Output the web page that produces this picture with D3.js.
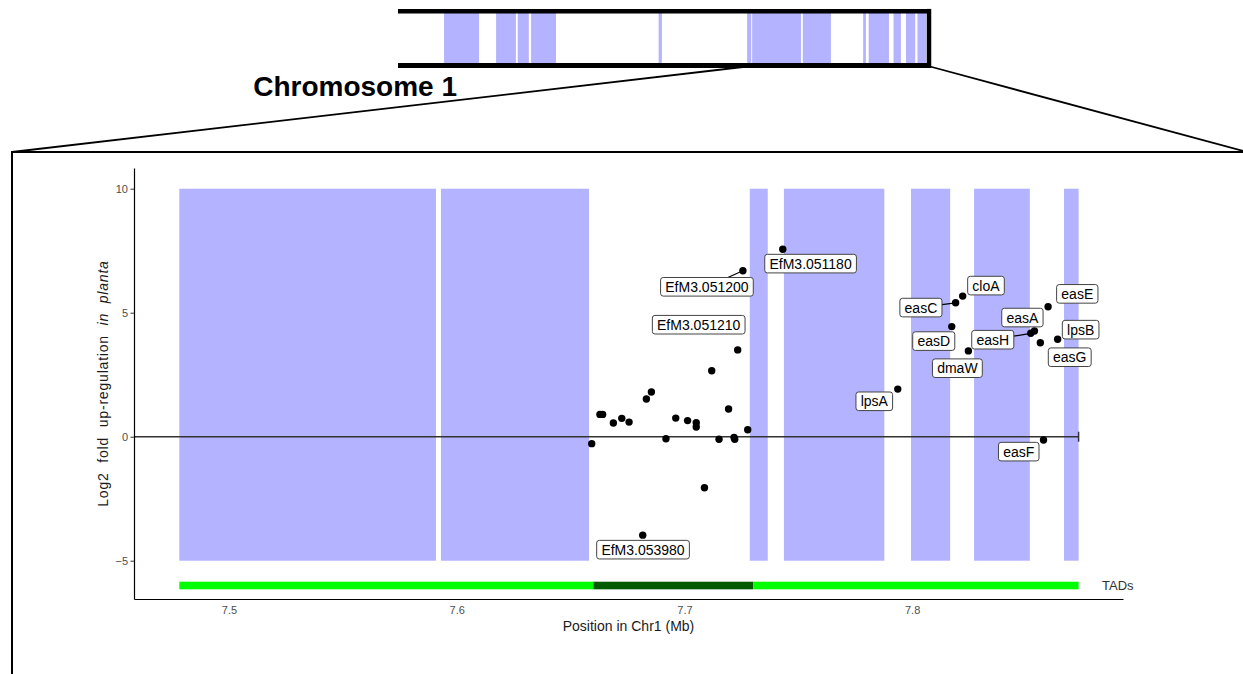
<!DOCTYPE html>
<html>
<head>
<meta charset="utf-8">
<script src="https://cdn.jsdelivr.net/npm/d3@7"></script>
<style>
  body { margin: 0; background: #fff; }
  svg { display: block; font-family: "Liberation Sans", Arial, Helvetica, sans-serif; }
</style>
</head>
<body>
<svg id="chart" width="1243" height="674"></svg>
<script>
// ---------------- data ----------------
// Gene positions on chromosome 1 (Mb) and their log2 fold up-regulation in planta
const genePositions = [
  7.6593, 7.6629, 7.6641, 7.6688, 7.6725, 7.6757, 7.6817, 7.6833, 7.6855, 7.6919,
  7.6962, 7.7014, 7.7052, 7.7052, 7.7088, 7.7120, 7.7152, 7.7194, 7.7218, 7.7221,
  7.7234, 7.7257, 7.7278, 7.7432, 7.7937, 7.8174, 7.8191, 7.8222, 7.8247, 7.8521,
  7.8537, 7.8563, 7.8577, 7.8597, 7.8639
];
const geneLog2FC = [
  -0.28, 0.90, 0.90, 0.55, 0.74, 0.59, -3.97, 1.52, 1.80, -0.08,
   0.75, 0.65, 0.56, 0.39, -2.06, 2.66, -0.10, 1.12, -0.03, -0.10,
   3.50, 6.69, 0.28, 7.56, 1.92, 4.44, 5.40, 5.67, 3.46, 4.17,
   4.26, 3.79, -0.13, 5.24, 3.93
];
const geneNames = [
  "", "", "", "", "", "", "EfM3.053980", "", "", "",
  "", "", "", "", "", "", "", "", "", "",
  "EfM3.051210", "EfM3.051200", "", "EfM3.051180", "lpsA", "easD", "easC", "cloA", "dmaW", "easH",
  "easA", "easG", "easF", "easE", "lpsB"
];

// Shaded chromatin blocks in the zoomed region (start, end in Mb)
const blockStarts = [7.4782, 7.5931, 7.7287, 7.7437, 7.7995, 7.8272, 7.8667];
const blockEnds   = [7.5909, 7.6581, 7.7366, 7.7878, 7.8167, 7.8517, 7.8731];

// TAD track segments (start, end in Mb, highlighted flag)
const tadStarts = [7.4782, 7.6600, 7.7302];
const tadEnds   = [7.6600, 7.7302, 7.8731];
const tadHighlight = [false, true, false];

// Overview of chromosome 1 around the locus (Mb)
const overviewRange = [6.720, 7.873];
const overviewStarts = [6.820, 6.933, 6.980, 7.009, 7.286, 7.478, 7.489, 7.599, 7.730, 7.742, 7.796, 7.823, 7.848];
const overviewEnds   = [6.896, 6.976, 7.004, 7.063, 7.293, 7.487, 7.595, 7.660, 7.736, 7.786, 7.812, 7.843, 7.867];

const yTicks = [-5, 0, 5, 10];
const xTicks = [7.5, 7.6, 7.7, 7.8];
const blockTop = 10, blockBottom = -5, tadLevel = -6;

// Label placement (pixel offset of box centre from its point, draw leader segment)
const labelLayout = {
  "EfM3.051180": [27.8, 14.4, false],
  "EfM3.051200": [-36, 16, true],
  "EfM3.051210": [-39, -25.2, false],
  "EfM3.053980": [0.3, 14.5, false],
  "lpsA": [-23.5, 12.2, false],
  "easD": [-18, 14.5, false],
  "easC": [-34.7, 4.8, true],
  "cloA": [23.3, -10.5, false],
  "dmaW": [-11, 17.3, false],
  "easH": [-38, 6.4, true],
  "easA": [-12, -13.5, false],
  "easG": [29.4, 14.5, false],
  "easF": [-24.8, 11.7, false],
  "easE": [29.2, -12.9, false],
  "lpsB": [23, -9.6, false]
};

// ---------------- drawing ----------------
const svg = d3.select("#chart");
const blue = "#b3b3ff";

// Overview strip
const ov = d3.scaleLinear().domain(overviewRange).range([398, 929]);
const ovTop = 11.2, ovBottom = 65.5;
const overview = svg.append("g");
overview.selectAll("rect.ovblock")
  .data(d3.range(overviewStarts.length))
  .join("rect")
  .attr("x", i => ov(overviewStarts[i]))
  .attr("width", i => ov(overviewEnds[i]) - ov(overviewStarts[i]))
  .attr("y", ovTop)
  .attr("height", ovBottom - ovTop)
  .attr("fill", blue);
overview.append("line").attr("x1", ov.range()[0]).attr("x2", ov.range()[1] + 2)
  .attr("y1", ovTop).attr("y2", ovTop).attr("stroke", "#000").attr("stroke-width", 4.6);
overview.append("line").attr("x1", ov.range()[0]).attr("x2", ov.range()[1] + 2)
  .attr("y1", ovBottom).attr("y2", ovBottom).attr("stroke", "#000").attr("stroke-width", 5);
overview.append("line").attr("x1", ov.range()[1]).attr("x2", ov.range()[1])
  .attr("y1", ovTop - 2.3).attr("y2", ovBottom + 2.5).attr("stroke", "#000").attr("stroke-width", 4.5);

svg.append("text")
  .attr("x", 457).attr("y", 96)
  .attr("text-anchor", "end")
  .attr("font-size", 28).attr("font-weight", "bold")
  .attr("fill", "#000")
  .text("Chromosome 1");

// Zoom frame and connector lines
const frameLeft = 12, frameTop = 152;
svg.append("line").attr("x1", frameLeft).attr("y1", frameTop).attr("x2", 1243).attr("y2", frameTop)
  .attr("stroke", "#000").attr("stroke-width", 2);
svg.append("line").attr("x1", frameLeft).attr("y1", frameTop - 1).attr("x2", frameLeft).attr("y2", 674)
  .attr("stroke", "#000").attr("stroke-width", 2);
svg.append("line").attr("x1", frameLeft).attr("y1", frameTop).attr("x2", ov(blockStarts[0])).attr("y2", ovBottom + 1)
  .attr("stroke", "#000").attr("stroke-width", 1.8);
svg.append("line").attr("x1", ov(overviewRange[1]) + 1).attr("y1", ovBottom + 1).attr("x2", 1243).attr("y2", frameTop - 1)
  .attr("stroke", "#000").attr("stroke-width", 1.8);

// Main panel scales
const x = d3.scaleLinear().domain([7.4583, 7.8926]).range([134, 1123]);
const y = d3.scaleLinear().domain([-6.544, 10.835]).range([599, 168]);

// Chromatin blocks
svg.append("g").selectAll("rect")
  .data(d3.range(blockStarts.length))
  .join("rect")
  .attr("x", i => x(blockStarts[i]))
  .attr("width", i => x(blockEnds[i]) - x(blockStarts[i]))
  .attr("y", y(blockTop))
  .attr("height", y(blockBottom) - y(blockTop))
  .attr("fill", blue);

// TAD track
const tadH = 7.6;
svg.append("g").selectAll("rect")
  .data(d3.range(tadStarts.length))
  .join("rect")
  .attr("x", i => x(tadStarts[i]))
  .attr("width", i => x(tadEnds[i]) - x(tadStarts[i]))
  .attr("y", y(tadLevel) - tadH / 2)
  .attr("height", tadH)
  .attr("fill", i => tadHighlight[i] ? "#005a00" : "#00ff00");

svg.append("text")
  .attr("x", 1102).attr("y", y(tadLevel) + 4.6)
  .attr("font-size", 13).attr("fill", "#333")
  .text("TADs");

// Zero reference line with end cap
const zeroEnd = x(blockEnds[blockEnds.length - 1]);
svg.append("line").attr("x1", x.range()[0]).attr("x2", zeroEnd)
  .attr("y1", y(0)).attr("y2", y(0)).attr("stroke", "#333").attr("stroke-width", 1.5);
svg.append("line").attr("x1", zeroEnd).attr("x2", zeroEnd)
  .attr("y1", y(0) - 5).attr("y2", y(0) + 5).attr("stroke", "#333").attr("stroke-width", 1.5);

// Axes
const yAxis = svg.append("g").attr("transform", `translate(${x.range()[0]},0)`)
  .call(d3.axisLeft(y).tickValues(yTicks).tickSize(3.5).tickPadding(2.5).tickSizeOuter(0));
yAxis.select(".domain").attr("stroke", "#000").attr("stroke-width", 1.2);
yAxis.selectAll(".tick line").attr("stroke", "#333");
yAxis.selectAll(".tick text").attr("font-size", 11).attr("fill", "#4d4d4d")
  .attr("font-family", "Liberation Sans, Arial, sans-serif");

const xAxis = svg.append("g").attr("transform", `translate(0,${y.range()[0]})`)
  .call(d3.axisBottom(x).tickValues(xTicks).tickFormat(d3.format(".1f")).tickSize(0).tickPadding(7).tickSizeOuter(0));
xAxis.select(".domain").attr("stroke", "#000").attr("stroke-width", 1.2);
xAxis.selectAll(".tick text").attr("font-size", 11).attr("fill", "#4d4d4d")
  .attr("font-family", "Liberation Sans, Arial, sans-serif");

svg.append("text")
  .attr("x", (x.range()[0] + x.range()[1]) / 2).attr("y", 631)
  .attr("text-anchor", "middle").attr("font-size", 14).attr("fill", "#1a1a1a")
  .text("Position in Chr1 (Mb)");

const yTitle = svg.append("text")
  .attr("transform", `translate(108,${(y.range()[0] + y.range()[1]) / 2}) rotate(-90)`)
  .attr("text-anchor", "middle").attr("font-size", 14).attr("fill", "#1a1a1a")
  .attr("letter-spacing", 0.8).attr("word-spacing", 5);
yTitle.append("tspan").text("Log2 fold up-regulation ");
yTitle.append("tspan").attr("font-style", "italic").text("in planta");

// Genes
const genes = d3.range(genePositions.length).map(i => ({
  pos: genePositions[i], val: geneLog2FC[i], name: geneNames[i]
}));

const labelled = genes.filter(d => d.name);
const segLayer = svg.append("g");
svg.append("g").selectAll("circle")
  .data(genes)
  .join("circle")
  .attr("cx", d => x(d.pos))
  .attr("cy", d => y(d.val))
  .attr("r", 3.7)
  .attr("fill", "#000");

const labelLayer = svg.append("g");
labelled.forEach(d => {
  const [dx, dy, seg] = labelLayout[d.name];
  const px = x(d.pos), py = y(d.val);
  const cx = px + dx, cy = py + dy;
  const g = labelLayer.append("g");
  const t = g.append("text")
    .attr("x", cx).attr("y", cy).attr("dy", "0.36em")
    .attr("text-anchor", "middle").attr("font-size", 14).attr("fill", "#000")
    .text(d.name);
  const w = t.node().getComputedTextLength() + 9.4;
  const h = 18.6;
  g.insert("rect", "text")
    .attr("x", cx - w / 2).attr("y", cy - h / 2)
    .attr("width", w).attr("height", h)
    .attr("rx", 2.6).attr("ry", 2.6)
    .attr("fill", "#fff").attr("stroke", "#444").attr("stroke-width", 1);
  if (seg) {
    const tx = Math.abs(dx) > w / 2 ? 1 - (w / 2) / Math.abs(dx) : 0;
    const ty = Math.abs(dy) > h / 2 ? 1 - (h / 2) / Math.abs(dy) : 0;
    const tt = Math.max(tx, ty);
    segLayer.append("line")
      .attr("x1", px).attr("y1", py)
      .attr("x2", px + dx * tt).attr("y2", py + dy * tt)
      .attr("stroke", "#000").attr("stroke-width", 1.2);
  }
});
</script>
</body>
</html>
